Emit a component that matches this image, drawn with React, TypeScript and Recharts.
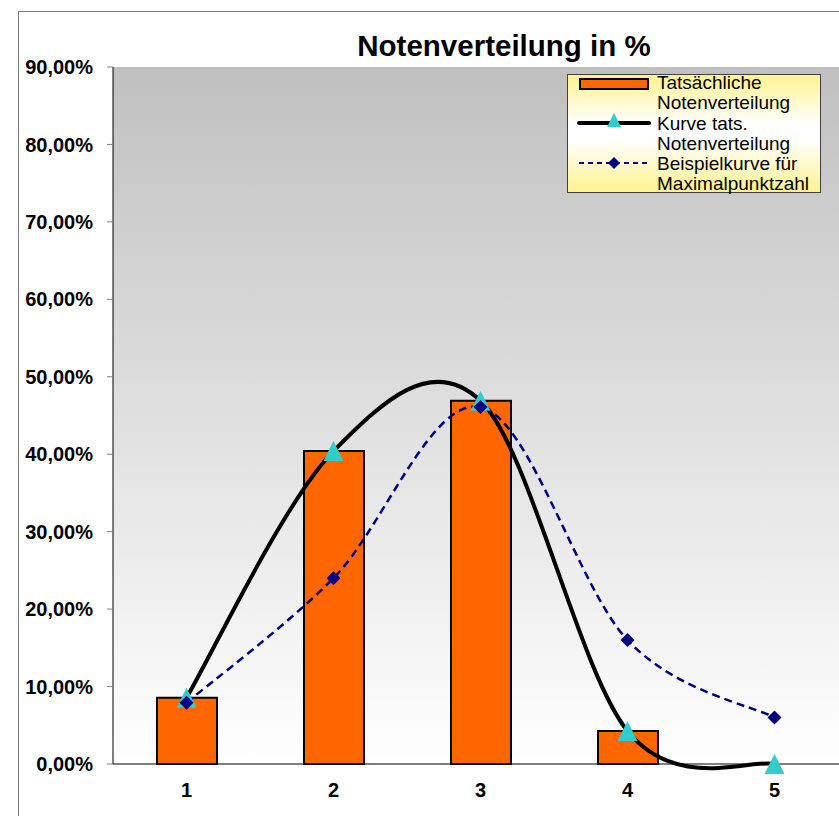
import { ComposedChart, Bar, Line, XAxis, YAxis, CartesianGrid, Legend } from "recharts";

const grades = ["1", "2", "3", "4", "5"];
const actualShare = [8.56, 40.4, 46.9, 4.26, 0];
const actualCurve = [8.56, 40.4, 46.9, 4.26, 0];
const exampleCurve = [7.9, 24, 46.1, 16, 6];
const yTicks = [0, 10, 20, 30, 40, 50, 60, 70, 80, 90];

const data = grades.map((g, i) => ({
  grade: g,
  actual: actualShare[i],
  curve: actualCurve[i],
  example: exampleCurve[i],
}));

const FONT = '"Liberation Sans", Arial, sans-serif';

// Excel-like smoothing (Catmull-Rom as Bezier)
const excelCurve = (context: any) => {
  let pts: number[][] = [];
  return {
    areaStart() {},
    areaEnd() {},
    lineStart() {
      pts = [];
    },
    point(x: number, y: number) {
      pts.push([+x, +y]);
    },
    lineEnd() {
      if (!pts.length) return;
      context.moveTo(pts[0][0], pts[0][1]);
      for (let i = 0; i < pts.length - 1; i++) {
        const p0 = pts[i - 1] || pts[i];
        const p1 = pts[i];
        const p2 = pts[i + 1];
        const p3 = pts[i + 2] || pts[i + 1];
        context.bezierCurveTo(
          p1[0] + (p2[0] - p0[0]) / 6,
          p1[1] + (p2[1] - p0[1]) / 6,
          p2[0] - (p3[0] - p1[0]) / 6,
          p2[1] - (p3[1] - p1[1]) / 6,
          p2[0],
          p2[1]
        );
      }
    },
  };
};

const Triangle = (props: any) => {
  const { cx, cy, index } = props;
  return (
    <polygon
      key={"t" + index}
      points={`${cx},${cy - 10} ${cx - 10},${cy + 10} ${cx + 10},${cy + 10}`}
      fill="#33CCCC"
    />
  );
};

const Diamond = (props: any) => {
  const { cx, cy, index } = props;
  return (
    <polygon
      key={"d" + index}
      points={`${cx},${cy - 7} ${cx + 7},${cy} ${cx},${cy + 7} ${cx - 7},${cy}`}
      fill="#000080"
    />
  );
};

const LegendBox = () => {
  const line = { height: 20.3, whiteSpace: "nowrap" as const };
  return (
    <div
      style={{
        width: 254,
        height: 119,
        boxSizing: "border-box",
        border: "1px solid #404040",
        background: "linear-gradient(#FFF38F, #FFFFFF 42%, #FFFFFF 55%, #FFF38F)",
        position: "relative",
        fontFamily: FONT,
        fontSize: 19,
        color: "#000",
      }}
    >
      <svg width={90} height={119} style={{ position: "absolute", left: 0, top: 0 }}>
        <rect x={12} y={4} width={68} height={10} fill="#FF6600" stroke="#000" strokeWidth={2} />
        <line x1={11} y1={48} x2={81} y2={48} stroke="#000" strokeWidth={4} strokeLinecap="round" />
        <polygon points="46,38 39,52 53,52" fill="#33CCCC" />
        <line x1={11} y1={88} x2={81} y2={88} stroke="#000080" strokeWidth={2} strokeDasharray="5 4" />
        <polygon points="46,82 52,88 46,94 40,88" fill="#000080" />
      </svg>
      <div style={{ position: "absolute", left: 89, top: -2, lineHeight: "20.3px" }}>
        <div style={line}>Tatsächliche</div>
        <div style={line}>Notenverteilung</div>
        <div style={line}>Kurve tats.</div>
        <div style={line}>Notenverteilung</div>
        <div style={line}>Beispielkurve für</div>
        <div style={line}>Maximalpunktzahl</div>
      </div>
    </div>
  );
};

export default function App() {
  return (
    <div
      style={{
        position: "fixed",
        left: 0,
        top: 0,
        width: 839,
        height: 816,
        overflow: "hidden",
        background: "#fff",
        fontFamily: FONT,
      }}
    >
      <div
        style={{
          position: "absolute",
          left: 18,
          top: 11,
          width: 900,
          height: 900,
          border: "1px solid #808080",
        }}
      />
      <div
        style={{
          position: "absolute",
          left: 304,
          top: 30,
          width: 400,
          textAlign: "center",
          fontSize: 29.5,
          lineHeight: "32px",
          fontWeight: "bold",
          whiteSpace: "nowrap",
        }}
      >
        Notenverteilung in %
      </div>
      <div style={{ position: "absolute", left: 0, top: 0 }}>
        <ComposedChart
          width={900}
          height={816}
          data={data}
          margin={{ top: 67, right: 52, left: 0, bottom: 12 }}
        >
          <defs>
            <linearGradient id="plotBg" x1="0" y1="0" x2="0" y2="1">
              <stop offset="0%" stopColor="#C0C0C0" />
              <stop offset="100%" stopColor="#FFFFFF" />
            </linearGradient>
          </defs>
          <CartesianGrid horizontal={false} vertical={false} fill="url(#plotBg)" />
          <XAxis
            dataKey="grade"
            height={40}
            axisLine={{ stroke: "#000", strokeWidth: 1 }}
            tickLine={false}
            tickSize={6}
            tickMargin={13}
            tick={{ fill: "#000", fontSize: 20, fontWeight: "bold", fontFamily: FONT }}
          />
          <YAxis
            width={113}
            domain={[0, 90]}
            ticks={yTicks}
            interval={0}
            tickFormatter={(v: number) => v.toFixed(2).replace(".", ",") + "%"}
            axisLine={{ stroke: "#000", strokeWidth: 1 }}
            tickLine={{ stroke: "#808080" }}
            tickSize={6}
            tickMargin={14}
            tick={{ fill: "#000", fontSize: 20, fontWeight: "bold", fontFamily: FONT }}
          />
          <Legend
            layout="horizontal"
            verticalAlign="middle"
            align="center"
            content={() => <LegendBox />}
            wrapperStyle={{ position: "absolute", left: 567, top: 74, width: 254, height: 119 }}
          />
          <Bar
            dataKey="actual"
            name="Tatsächliche Notenverteilung"
            barSize={60}
            fill="#FF6600"
            stroke="#000"
            strokeWidth={2}
            isAnimationActive={false}
          />
          <Line
            dataKey="curve"
            name="Kurve tats. Notenverteilung"
            type={excelCurve as any}
            stroke="#000"
            strokeWidth={4}
            dot={Triangle}
            activeDot={false}
            isAnimationActive={false}
          />
          <Line
            dataKey="example"
            name="Beispielkurve für Maximalpunktzahl"
            type={excelCurve as any}
            stroke="#000080"
            strokeWidth={2.5}
            strokeDasharray="8 5"
            dot={Diamond}
            activeDot={false}
            isAnimationActive={false}
          />
        </ComposedChart>
      </div>
    </div>
  );
}
